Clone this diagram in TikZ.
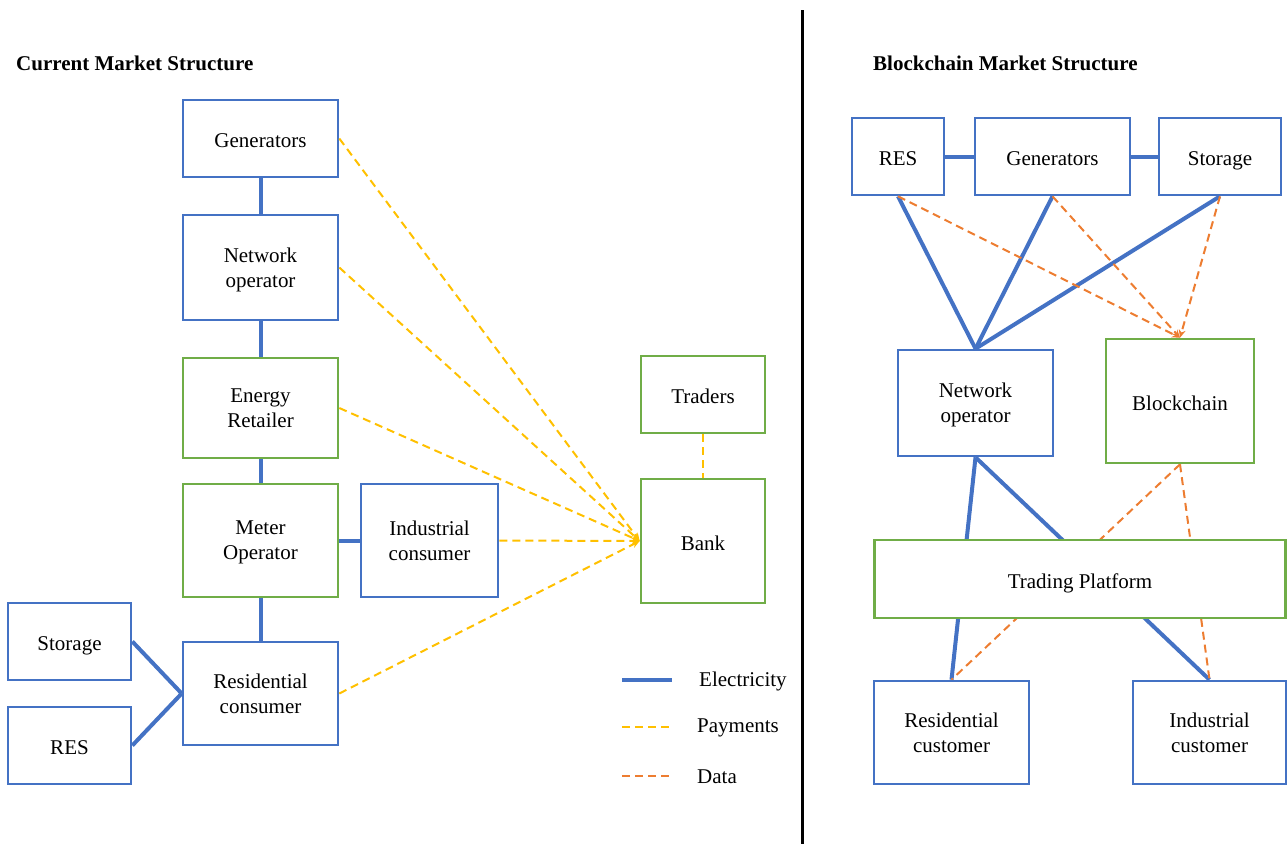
\documentclass[tikz,border=0pt]{standalone}
\usepackage{fontspec}
\setmainfont{Liberation Serif}
\usetikzlibrary{arrows.meta,backgrounds}
\definecolor{elec}{HTML}{4472C4}
\definecolor{grn}{HTML}{70AD47}
\definecolor{pay}{HTML}{FFC000}
\definecolor{dat}{HTML}{ED7D31}
\tikzset{
  box/.style={draw=elec, line width=2.6pt, fill=white, inner sep=0pt, align=center,
    font=\fontsize{21}{25}\selectfont},
  gbox/.style={box, draw=grn},
  one/.style={text height=18pt, text depth=0pt},
  two/.style={text depth=-3pt},
  elecline/.style={draw=elec, line width=4pt},
  payline/.style={draw=pay, line width=2pt, dash pattern=on 8pt off 5pt},
  dataline/.style={draw=dat, line width=2pt, dash pattern=on 8pt off 5pt},
  tip/.style={-{Stealth[length=8pt,width=7pt]}},
  title/.style={font=\fontsize{21}{25}\selectfont\bfseries, anchor=west, inner sep=0pt},
  legtext/.style={font=\fontsize{21}{25}\selectfont, anchor=west, inner sep=0pt},
}
\begin{document}
\begin{tikzpicture}[x=1pt,y=-1pt]
\useasboundingbox (0,0) rectangle (1288,844);

% section titles and divider
\node[title] (t1) at (16,63) {Current Market Structure};
\node[title] (t2) at (873,63) {Blockchain Market Structure};
\coordinate (d1) at (802,10);
\coordinate (d2) at (802,844);
\draw[line width=3pt, black] (d1) -- (d2);

% ---------- current market ----------
\node[box, one, minimum width=155pt, minimum height=77pt] (gen) at (260.5,138.5) {Generators};
\node[box, two, minimum width=155pt, minimum height=105pt] (net) at (260.5,267.5) {Network\\operator};
\node[gbox, two, minimum width=155pt, minimum height=100pt] (ret) at (260.5,408) {Energy\\Retailer};
\node[gbox, two, minimum width=155pt, minimum height=113pt] (met) at (260.5,540.5) {Meter\\Operator};
\node[box, two, minimum width=137pt, minimum height=113pt] (ind) at (429.5,540.5) {Industrial\\consumer};
\node[box, two, minimum width=155pt, minimum height=103pt] (res) at (260.5,693.5) {Residential\\consumer};
\node[box, one, minimum width=123pt, minimum height=77pt] (sto) at (69.5,641.5) {Storage};
\node[box, one, minimum width=123pt, minimum height=77pt] (rs) at (69.5,745.5) {RES};
\node[gbox, one, minimum width=124pt, minimum height=77pt] (trd) at (703,394.5) {Traders};
\node[gbox, one, minimum width=124pt, minimum height=124pt] (bank) at (703,541) {Bank};

\begin{scope}[on background layer]
\draw[elecline] (gen) -- (net);
\draw[elecline] (net) -- (ret);
\draw[elecline] (ret) -- (met);
\draw[elecline] (met) -- (res);
\draw[elecline] (met) -- (ind);
\draw[elecline] (sto.east) -- (res.west);
\draw[elecline] (rs.east) -- (res.west);
\end{scope}

\draw[payline, tip] (gen.east) -- (bank.west);
\draw[payline, tip] (net.east) -- (bank.west);
\draw[payline, tip] (ret.east) -- (bank.west);
\draw[payline, tip] (ind.east) -- (bank.west);
\draw[payline, tip] (res.east) -- (bank.west);
\draw[payline] (trd.south) -- (bank.north);

% legend
\coordinate (l1a) at (622,680); \coordinate (l1b) at (672,680);
\coordinate (l2a) at (622,727); \coordinate (l2b) at (672,727);
\coordinate (l3a) at (622,776); \coordinate (l3b) at (672,776);
\draw[elecline] (l1a) -- (l1b);
\draw[payline] (l2a) -- (l2b);
\draw[dataline] (l3a) -- (l3b);
\node[legtext] (lt1) at (699,681) {Electricity};
\node[legtext] (lt2) at (697,728) {Payments};
\node[legtext] (lt3) at (697,777) {Data};

% ---------- blockchain market ----------
\node[box, one, minimum width=92pt, minimum height=77pt] (brs) at (898,156.5) {RES};
\node[box, one, minimum width=155pt, minimum height=77pt] (bgen) at (1052.5,156.5) {Generators};
\node[box, one, minimum width=122pt, minimum height=77pt] (bsto) at (1220,156.5) {Storage};
\node[box, two, minimum width=155pt, minimum height=106pt] (bnet) at (975.5,403) {Network\\operator};
\node[gbox, one, minimum width=148pt, minimum height=124pt] (bc) at (1180,401) {Blockchain};
\node[gbox, one, minimum width=411pt, minimum height=78pt] (tp) at (1080,579) {Trading Platform};
\node[box, two, minimum width=155pt, minimum height=103pt] (bres) at (951.5,732.5) {Residential\\customer};
\node[box, two, minimum width=153pt, minimum height=103pt] (bind) at (1209.5,732.5) {Industrial\\customer};

\begin{scope}[on background layer]
\draw[elecline] (brs) -- (bgen);
\draw[elecline] (bgen) -- (bsto);
\draw[elecline] (brs.south) -- (bnet.north);
\draw[elecline] (bgen.south) -- (bnet.north);
\draw[elecline] (bsto.south) -- (bnet.north);
\draw[elecline] (bnet.south) -- (bres.north);
\draw[elecline] (bnet.south) -- (bind.north);
\draw[dataline] (bc.south) -- (bres.north);
\draw[dataline] (bc.south) -- (bind.north);
\end{scope}

\draw[dataline, tip] (brs.south) -- (bc.north);
\draw[dataline, tip] (bgen.south) -- (bc.north);
\draw[dataline, tip] (bsto.south) -- (bc.north);
\end{tikzpicture}
\end{document}
